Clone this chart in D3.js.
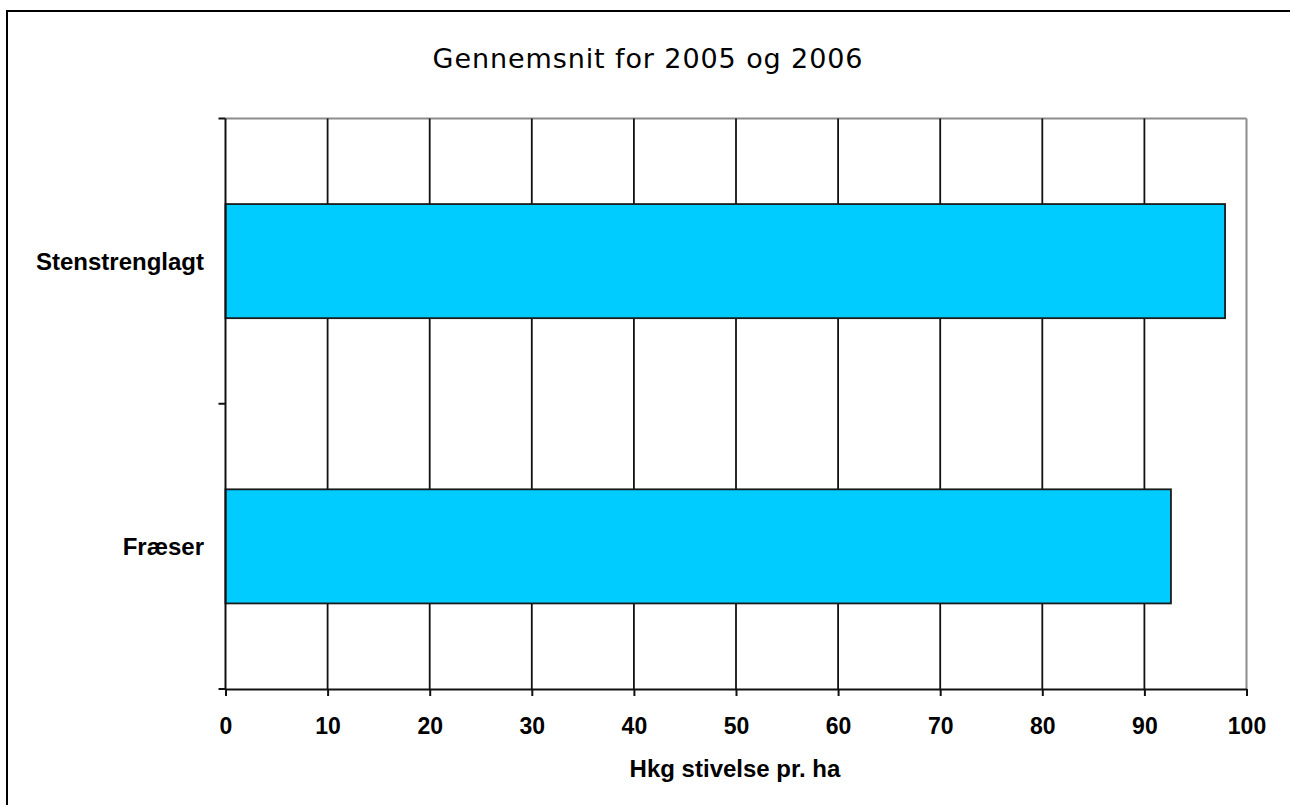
<!DOCTYPE html>
<html>
<head>
<meta charset="utf-8">
<script src="https://cdn.jsdelivr.net/npm/d3@7"></script>
<style>
  html, body { margin: 0; padding: 0; background: #fff; }
  svg { display: block; }
</style>
</head>
<body>
<svg id="chart" width="1290" height="805"></svg>
<script>
const categories = ["Stenstrenglagt", "Fræser"];
const values = [97.9, 92.6];
const tickValues = [0, 10, 20, 30, 40, 50, 60, 70, 80, 90, 100];
const titleText = "Gennemsnit for 2005 og 2006";
const xAxisTitle = "Hkg stivelse pr. ha";

const svg = d3.select("#chart");
const W = 1290, H = 805;
const plot = { left: 225.5, right: 1246.5, top: 118.5, bottom: 689 };

// outer frame (right and bottom edges fall outside the picture)
svg.append("rect")
  .attr("x", 7).attr("y", 11)
  .attr("width", W + 20).attr("height", H + 20)
  .attr("fill", "#fff").attr("stroke", "#000").attr("stroke-width", 2);

const x = d3.scaleLinear().domain([0, 100]).range([plot.left, plot.right]);
const y = d3.scaleBand().domain(categories)
  .range([plot.top, plot.bottom]).paddingInner(0.6).paddingOuter(0.3);

// plot border top / right (gray)
svg.append("line").attr("x1", plot.left).attr("x2", plot.right)
  .attr("y1", plot.top).attr("y2", plot.top)
  .attr("stroke", "#8c8c8c").attr("stroke-width", 2);
svg.append("line").attr("x1", plot.right).attr("x2", plot.right)
  .attr("y1", plot.top).attr("y2", plot.bottom)
  .attr("stroke", "#8c8c8c").attr("stroke-width", 2);

// gridlines
svg.append("g").selectAll("line")
  .data(tickValues.filter(d => d > 0 && d < 100))
  .join("line")
  .attr("x1", d => x(d)).attr("x2", d => x(d))
  .attr("y1", plot.top).attr("y2", plot.bottom)
  .attr("stroke", "#111").attr("stroke-width", 1.8);

// bars
svg.append("g").selectAll("rect")
  .data(categories.map((c, i) => ({ c, v: values[i] })))
  .join("rect")
  .attr("x", x(0))
  .attr("y", d => y(d.c))
  .attr("width", d => x(d.v) - x(0))
  .attr("height", y.bandwidth())
  .attr("fill", "#00CCFF")
  .attr("stroke", "#1a1a1a").attr("stroke-width", 1.8);

// x axis
const xAxis = d3.axisBottom(x).tickValues(tickValues).tickSize(7).tickSizeOuter(0).tickPadding(22);
const gx = svg.append("g").attr("transform", `translate(0,${plot.bottom})`).call(xAxis);
gx.select(".domain").attr("stroke", "#111").attr("stroke-width", 2);
gx.selectAll(".tick line").attr("stroke", "#111").attr("stroke-width", 2);
gx.selectAll(".tick text")
  .attr("font-family", "'Liberation Sans', Arial, sans-serif")
  .attr("font-weight", "bold").attr("font-size", 23).attr("fill", "#000");

// y axis line
svg.append("line").attr("x1", plot.left).attr("x2", plot.left)
  .attr("y1", plot.top).attr("y2", plot.bottom)
  .attr("stroke", "#111").attr("stroke-width", 2);
// y ticks at band boundaries
const bounds = d3.range(categories.length + 1).map(i => plot.top + i * y.step());
svg.append("g").selectAll("line").data(bounds).join("line")
  .attr("x1", plot.left - 7).attr("x2", plot.left)
  .attr("y1", d => d).attr("y2", d => d)
  .attr("stroke", "#111").attr("stroke-width", 2);
// y labels
svg.append("g").selectAll("text").data(categories).join("text")
  .attr("x", 204)
  .attr("y", d => y(d) + y.bandwidth() / 2)
  .attr("dy", "0.36em")
  .attr("text-anchor", "end")
  .attr("font-family", "'Liberation Sans', Arial, sans-serif")
  .attr("font-weight", "bold").attr("font-size", 24).attr("fill", "#000")
  .text(d => d);

// title
svg.append("text")
  .attr("x", 648).attr("y", 68)
  .attr("text-anchor", "middle")
  .attr("font-family", "'DejaVu Sans', sans-serif")
  .attr("font-size", 27).attr("letter-spacing", 0.9).attr("fill", "#000")
  .text(titleText);

// x axis title
svg.append("text")
  .attr("x", 735).attr("y", 777)
  .attr("text-anchor", "middle")
  .attr("font-family", "'Liberation Sans', Arial, sans-serif")
  .attr("font-weight", "bold").attr("font-size", 24).attr("fill", "#000")
  .text(xAxisTitle);
</script>
</body>
</html>
